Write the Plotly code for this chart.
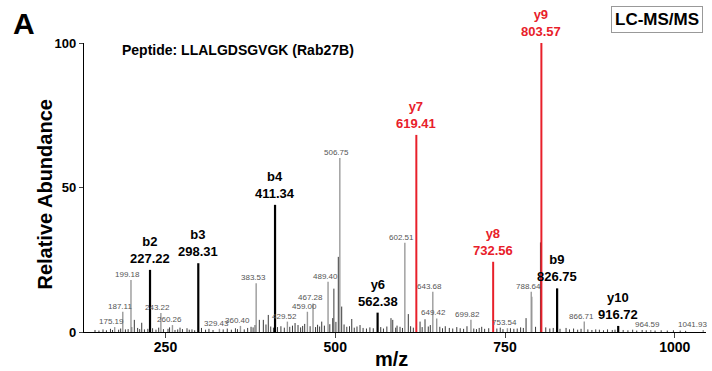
import plotly.graph_objects as go

# ---- data ----
# major b-ion peaks (black, bold labels)
b_names = ["b2", "b3", "b4", "y6", "b9", "y10"]
b_mz = [227.22, 298.31, 411.34, 562.38, 826.75, 916.72]
b_int = [21.5, 23.8, 44.0, 6.7, 15.1, 2.1]

# major y-ion peaks (red)
y_names = ["y7", "y8", "y9"]
y_mz = [619.41, 732.56, 803.57]
y_int = [68.2, 24.3, 100.0]

# labelled minor peaks (grey)
m_mz = [175.19, 187.11, 199.18, 243.22, 260.26, 329.43, 360.40, 383.53, 429.52,
        459.00, 467.28, 489.40, 506.75, 602.51, 643.68, 649.42, 699.82, 753.54,
        788.64, 866.71, 964.59, 1041.93]
m_int = [1.7, 7.0, 18.0, 6.6, 2.4, 1.1, 2.1, 16.9, 3.6,
         7.0, 9.9, 17.4, 60.2, 30.9, 13.9, 4.7, 4.2, 1.3,
         13.9, 3.6, 0.7, 0.7]

# unlabelled peaks and noise
n_mz = [146.2, 152, 158, 163, 169, 172, 181, 184, 191, 195, 200.3, 204.1, 209, 212, 215.0,
        219, 224, 231, 236, 240, 247, 253.7, 256, 264, 268, 271.4, 275, 281.7, 285, 289,
        293, 303, 309, 314, 320, 335, 341, 347, 353, 356, 366, 371, 376, 379, 381.9,
        388.2, 394.1, 398, 401.4, 405, 409, 415, 420, 425, 433, 437, 440.8, 445.2, 449,
        452, 455, 463, 471, 474, 477, 480.1, 484, 492, 496.3, 498.0, 501, 504.5, 509.5,
        513, 517, 521, 524.3, 528, 532, 536.5, 541, 546, 551, 556, 567, 571, 576, 582.1,
        584.7, 589, 591, 595.4, 599, 607.6, 611, 615, 624.9, 628, 632.2, 637, 640, 654,
        658, 662, 668, 673, 679, 684, 689, 694, 704, 708, 712, 715.7, 720, 726, 738, 743,
        747, 758, 763, 768, 773, 777, 781.0, 789.4, 795, 802.2, 810, 816, 821, 831, 839.9,
        845, 851, 857, 862, 872, 878, 883.6, 889, 895, 901, 908, 912, 924, 931, 938, 944,
        952, 958, 971, 980, 989, 998, 1008, 1016, 1024, 1033]
n_int = [0.7, 0.5, 0.9, 0.6, 1.1, 0.7, 0.8, 1.2, 0.9, 1.0, 1.7, 4.2, 1.4, 1.0, 3.2,
         0.9, 1.1, 1.3, 0.8, 1.5, 1.0, 1.1, 1.6, 0.7, 0.9, 1.5, 1.0, 1.3, 0.8, 0.9,
         0.6, 1.4, 0.8, 1.1, 0.7, 0.9, 1.2, 0.8, 1.3, 1.0, 0.9, 1.4, 1.8, 1.6, 2.4,
         4.2, 4.2, 2.6, 5.9, 1.9, 1.5, 1.7, 2.0, 1.5, 1.8, 2.2, 3.1, 2.4, 1.6,
         2.1, 2.8, 2.0, 1.7, 2.5, 1.9, 3.6, 2.2, 2.7, 4.8, 15.0, 3.5, 26.0, 8.8,
         2.6, 1.8, 2.0, 4.5, 1.5, 1.9, 2.4, 1.4, 1.2, 1.6, 1.3, 1.7, 1.2, 1.9, 4.8,
         4.2, 1.5, 2.2, 1.8, 1.4, 6.2, 2.0, 1.5, 3.6, 1.7, 4.4, 1.9, 2.4, 1.8,
         1.3, 2.0, 1.4, 1.2, 1.7, 1.3, 1.1, 2.0, 1.2, 1.0, 1.4, 1.8, 1.1, 1.3, 1.2, 1.5,
         1.0, 1.3, 1.1, 1.2, 1.6, 1.4, 4.8, 12.2, 1.8, 31.0, 1.6, 1.2, 1.4, 1.1, 1.4,
         0.9, 1.2, 0.8, 1.1, 0.9, 0.7, 0.9, 0.8, 0.6, 0.9, 0.7, 0.8, 0.7, 0.6, 0.8,
         0.5, 0.7, 0.6, 0.5, 0.6, 0.5, 0.6, 0.5, 0.4]

x_ticks = [250, 500, 750, 1000]
y_ticks = [0, 50, 100]

FONT = "Liberation Sans, Arial, sans-serif"


def sticks(xs, hs):
    X, Y = [], []
    for x, h in zip(xs, hs):
        X += [x, x, None]
        Y += [0, h, None]
    return X, Y


fig = go.Figure()
for xs, hs, col, w in [(n_mz, n_int, "#3a3a3a", 1.0),
                       (m_mz, m_int, "#9a9a9a", 1.4),
                       (b_mz, b_int, "#000000", 2.2),
                       (y_mz, y_int, "#e8202a", 2.0)]:
    X, Y = sticks(xs, hs)
    fig.add_trace(go.Scatter(x=X, y=Y, mode="lines", line=dict(color=col, width=w),
                             hoverinfo="skip", showlegend=False, cliponaxis=False))

ann = []
for n, x, h in zip(b_names, b_mz, b_int):
    ann.append(dict(x=x, y=h, text=f"<b>{n}<br>{x:.2f}</b>", showarrow=False,
                    yanchor="bottom", yshift=2, font=dict(family=FONT, size=13, color="black")))
for n, x, h in zip(y_names, y_mz, y_int):
    ann.append(dict(x=x, y=h, text=f"<b>{n}<br>{x:.2f}</b>", showarrow=False,
                    yanchor="bottom", yshift=2, font=dict(family=FONT, size=13, color="#e8202a")))
for x, h in zip(m_mz, m_int):
    ann.append(dict(x=x, y=h, text=f"{x:.2f}", showarrow=False,
                    xshift=(-11 if x > 1000 else -3),
                    yanchor="bottom", yshift=-1, font=dict(family=FONT, size=8, color="#555555")))

ann.append(dict(xref="paper", yref="paper", x=-0.096, y=1.066, text="<b>A</b>", showarrow=False,
                xanchor="center", yanchor="middle", font=dict(family=FONT, size=30, color="black")))
ann.append(dict(xref="paper", yref="paper", x=0.058, y=0.976,
                text="<b>Peptide: LLALGDSGVGK (Rab27B)</b>", showarrow=False,
                xanchor="left", yanchor="middle", font=dict(family=FONT, size=14, color="black")))
ann.append(dict(xref="paper", yref="paper", x=0.995, y=1.083, text="<b>LC-MS/MS</b>",
                showarrow=False, xanchor="right", yanchor="middle",
                bordercolor="#999999", borderwidth=1, borderpad=3, bgcolor="white",
                font=dict(family=FONT, size=17, color="black")))
# axis titles
ann.append(dict(xref="paper", yref="paper", x=0.495, y=-0.092, text="<b>m/z</b>",
                showarrow=False, xanchor="center", yanchor="middle",
                font=dict(family=FONT, size=20, color="black")))
ann.append(dict(xref="paper", yref="paper", x=-0.063, y=0.475, text="<b>Relative Abundance</b>",
                showarrow=False, xanchor="center", yanchor="middle", textangle=-90,
                font=dict(family=FONT, size=20, color="black")))

fig.update_layout(
    width=712, height=371,
    margin=dict(l=84, r=6, t=43, b=39),
    paper_bgcolor="white", plot_bgcolor="white",
    annotations=ann,
    xaxis=dict(range=[130, 1046], tickvals=x_ticks, ticks="outside", ticklen=5, tickwidth=1.2,
               showline=True, linecolor="black", linewidth=1.2, showgrid=False, zeroline=False,
               automargin=False, ticklabelstandoff=-3,
               tickfont=dict(family=FONT, size=14, color="black", weight="bold")),
    yaxis=dict(range=[0, 100], tickvals=y_ticks, ticks="outside", ticklen=4, tickwidth=1.2,
               showline=True, linecolor="black", linewidth=1.2, showgrid=False, zeroline=False,
               automargin=False,
               tickfont=dict(family=FONT, size=13, color="black", weight="bold")),
)

fig.write_html("out.html")
